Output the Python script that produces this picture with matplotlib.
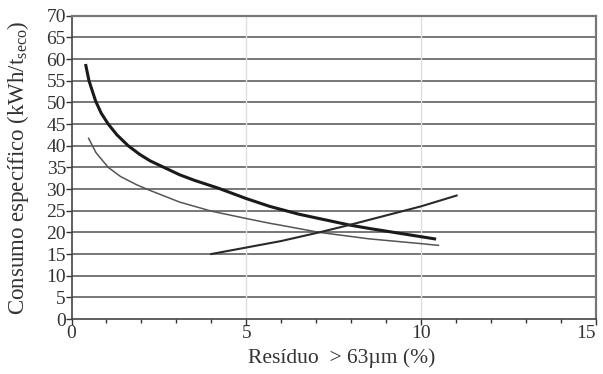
import numpy as np
import matplotlib
matplotlib.use("Agg")
import matplotlib.pyplot as plt
from matplotlib.ticker import MultipleLocator

plt.rcParams['font.family'] = ['Liberation Serif', 'DejaVu Serif']
plt.rcParams['mathtext.fontset'] = 'custom'
plt.rcParams['mathtext.rm'] = 'Liberation Serif'
plt.rcParams['mathtext.it'] = 'Liberation Serif:italic'

# thick curve (upper decreasing)
x_thick = [0.41, 0.50, 0.69, 0.85, 1.05, 1.3, 1.62, 1.95, 2.25, 2.75, 3.09, 3.52, 4.2, 5.0, 5.67, 6.5, 7.95, 8.52, 10.0, 10.39]
y_thick = [58.5, 55.0, 50.3, 47.5, 45.0, 42.5, 40.0, 38.0, 36.5, 34.6, 33.3, 32.0, 30.2, 27.8, 26.0, 24.2, 21.7, 20.9, 19.0, 18.5]
# thin curve (lower decreasing)
x_thin = [0.49, 0.7, 1.05, 1.4, 1.86, 2.24, 3.09, 4.0, 5.0, 5.67, 5.95, 7.09, 8.52, 10.0, 10.5]
y_thin = [41.7, 38.4, 35.0, 32.9, 31.0, 29.7, 27.0, 24.9, 23.2, 22.1, 21.7, 20.0, 18.5, 17.4, 17.0]
# rising line
x_rise = [4.0, 5.0, 6.0, 7.09, 7.95, 9.0, 10.0, 11.02]
y_rise = [15.0, 16.5, 18.0, 20.0, 21.7, 23.9, 26.0, 28.5]

x_ticks = [0, 5, 10, 15]
x_tick_labels = ['0', '5', '10', '15']

fig = plt.figure(figsize=(6.03, 3.74), dpi=100)
ax = fig.add_axes([0.1186, 0.147, 0.8693, 0.811])

for y in range(5, 70, 5):
    ax.axhline(y, color='#777777', lw=1.4, zorder=1)
for x in [5, 10]:
    ax.axvline(x, color='#e0e0e0', lw=1.0, zorder=1)

ax.plot(x_thick, y_thick, color='#1a1a1a', lw=2.2, zorder=3)
ax.plot(x_thin, y_thin, color='#555555', lw=1.1, zorder=3)
ax.plot(x_rise, y_rise, color='#2a2a2a', lw=1.5, zorder=3)

ax.set_xlim(0, 15)
ax.set_ylim(0, 70)
ax.set_xticks(x_ticks)
ax.set_xticklabels(x_tick_labels)
ax.xaxis.set_minor_locator(MultipleLocator(1))
ax.yaxis.set_major_locator(MultipleLocator(5))
ax.tick_params(axis='both', which='major', direction='out', length=4, width=1.0,
               labelsize=14, colors='#333333', pad=0)
ax.tick_params(axis='x', which='minor', direction='out', length=3, width=1.0, color='#333333')
# keep the last x tick label inside the figure
ax.get_xticklabels()[-1].set_horizontalalignment('right')

for s in ax.spines.values():
    s.set_color('#777777')
    s.set_linewidth(1.6)
ax.spines['left'].set_color('#444444')
ax.spines['bottom'].set_color('#444444')
ax.spines['left'].set_linewidth(1.2)
ax.spines['bottom'].set_linewidth(1.2)

ax.set_xlabel('Resíduo  > 63µm (%)', fontsize=15.5, color='#333333')
ax.xaxis.set_label_coords(0.516, -0.095)
ax.set_ylabel('Consumo específico (kWh/t$_{\\rm seco}$)', fontsize=16.5, color='#333333')
ax.yaxis.set_label_coords(-0.077, 0.5)

fig.savefig('out.png', dpi=100)
